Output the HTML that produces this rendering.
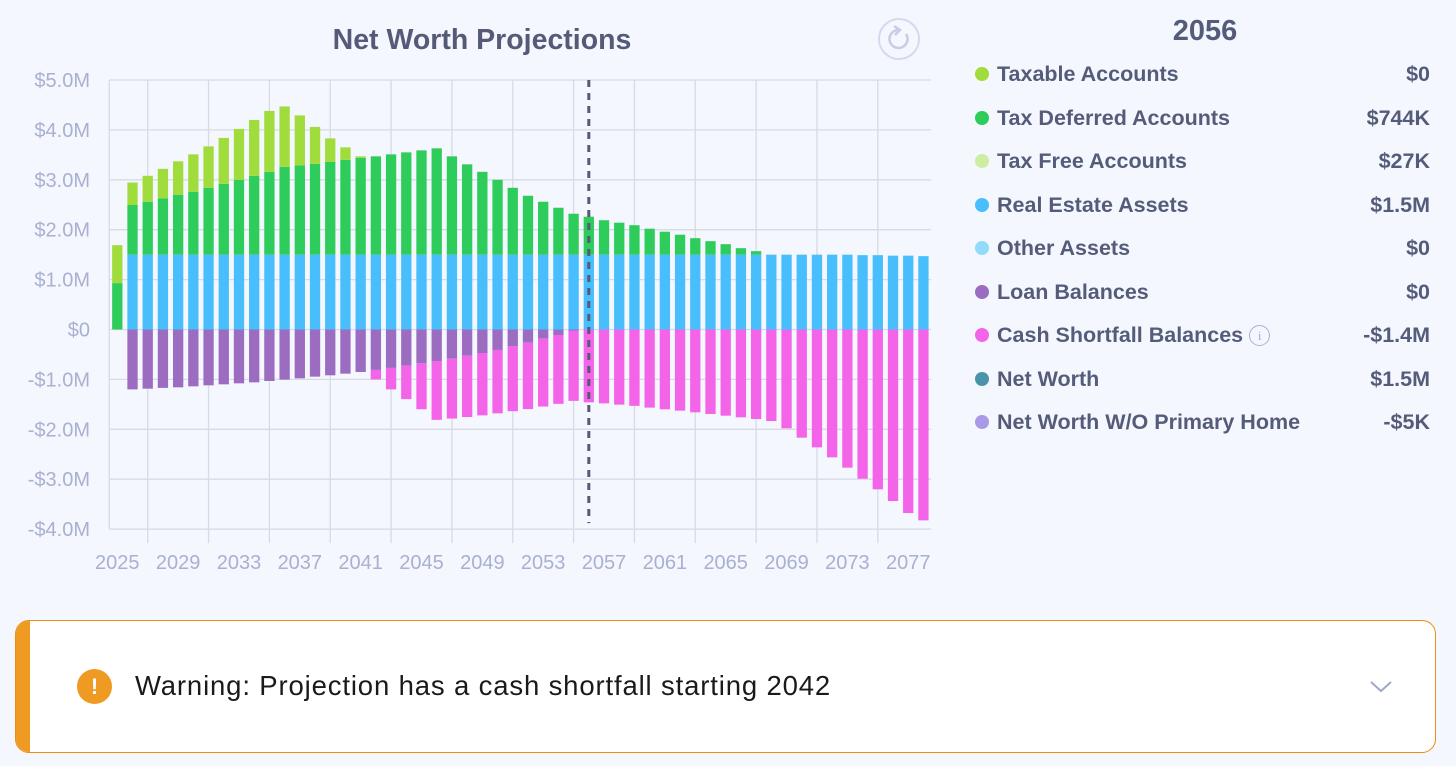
<!DOCTYPE html>
<html><head><meta charset="utf-8"><style>
body{margin:0;width:1456px;height:766px;background:#f4f7fe;font-family:"Liberation Sans",sans-serif;overflow:hidden;position:relative}
.leg{position:absolute;left:975px;width:455px;height:30px;font-size:21.5px;font-weight:bold;color:#555c7a}
.leg .dot{position:absolute;left:0;top:8px;width:14px;height:14px;border-radius:50%}
.leg .lab{position:absolute;left:22px;top:3px}
.leg .val{position:absolute;right:0;top:3px}
</style></head><body>
<svg id="chart" width="940" height="590" style="position:absolute;left:0;top:0">
<text x="482" y="49" text-anchor="middle" font-size="28.5" font-weight="bold" fill="#555a78">Net Worth Projections</text>
<g><circle cx="899" cy="39" r="20" fill="none" stroke="#d6d9ee" stroke-width="2"/><path d="M906 34 A9 9 0 1 1 898 30" fill="none" stroke="#c8cce6" stroke-width="2.5"/><path d="M894 26 L900 30 L895 35" fill="none" stroke="#c8cce6" stroke-width="2.5"/></g>
<g id="grid"></g><g id="bars"></g><g id="axes"></g>
</svg>
<div style="position:absolute;left:1105px;top:15px;width:200px;text-align:center;font-size:29px;font-weight:bold;color:#555c7a">2056</div>
<div id="legend"></div>
<div style="position:absolute;left:15px;top:620px;width:1419px;height:131px;background:#fff;border:1.5px solid #f08c10;border-radius:14px;overflow:hidden">
<div style="position:absolute;left:0;top:0;width:14px;height:100%;background:#ef9a22"></div>
<div style="position:absolute;left:61px;top:48px;width:35px;height:35px;border-radius:50%;background:#ef9a22;color:#fff;font-weight:bold;font-size:22px;text-align:center;line-height:35px">!</div>
<div style="position:absolute;left:119px;top:49px;font-size:27.5px;letter-spacing:0.85px;color:#1a1a1a">Warning: Projection has a cash shortfall starting 2042</div>
<svg width="24" height="14" style="position:absolute;left:1353px;top:59px"><path d="M2 2 L12 11 L22 2" fill="none" stroke="#a0a8c8" stroke-width="2"/></svg>
</div>
<script>
const years=[];for(let y=2025;y<=2078;y++)years.push(y);
const realEstate=[0,1.5,1.5,1.5,1.5,1.5,1.5,1.5,1.5,1.5,1.5,1.5,1.5,1.5,1.5,1.5,1.5,1.5,1.5,1.5,1.5,1.5,1.5,1.5,1.5,1.5,1.5,1.5,1.5,1.5,1.5,1.5,1.5,1.5,1.5,1.5,1.5,1.5,1.5,1.5,1.5,1.5,1.5,1.5,1.5,1.5,1.5,1.5,1.5,1.49,1.49,1.48,1.48,1.47];
const taxDeferred=[0.93,0.995,1.06,1.13,1.2,1.26,1.34,1.42,1.5,1.58,1.66,1.76,1.79,1.82,1.86,1.9,1.94,1.97,2.01,2.05,2.09,2.13,1.97,1.81,1.66,1.5,1.34,1.18,1.06,0.94,0.82,0.76,0.69,0.64,0.59,0.52,0.46,0.4,0.33,0.27,0.21,0.13,0.07,0,0,0,0,0,0,0,0,0,0,0];
const taxable=[0.76,0.45,0.52,0.59,0.67,0.75,0.83,0.92,1.02,1.12,1.22,1.21,1.0,0.74,0.47,0.25,0.03,0,0,0,0,0,0,0,0,0,0,0,0,0,0,0,0,0,0,0,0,0,0,0,0,0,0,0,0,0,0,0,0,0,0,0,0,0];
const loans=[0,1.2,1.186,1.17,1.159,1.139,1.119,1.099,1.079,1.059,1.032,1.005,0.979,0.945,0.918,0.885,0.852,0.81,0.77,0.725,0.678,0.631,0.585,0.524,0.471,0.41,0.337,0.264,0.184,0.11,0.02,0,0,0,0,0,0,0,0,0,0,0,0,0,0,0,0,0,0,0,0,0,0,0];
const shortfall=[0,0,0,0,0,0,0,0,0,0,0,0,0,0,0,0,0,0.19,0.43,0.67,0.92,1.18,1.2,1.23,1.25,1.27,1.3,1.33,1.36,1.38,1.41,1.46,1.48,1.506,1.53,1.566,1.6,1.626,1.66,1.693,1.727,1.76,1.794,1.834,1.98,2.168,2.362,2.562,2.769,2.99,3.203,3.437,3.678,3.825];
const yTicks=[5,4,3,2,1,0,-1,-2,-3,-4];
const yTickLabels=["$5.0M","$4.0M","$3.0M","$2.0M","$1.0M","$0","-$1.0M","-$2.0M","-$3.0M","-$4.0M"];
const xTickYears=[2025,2029,2033,2037,2041,2045,2049,2053,2057,2061,2065,2069,2073,2077];
const selectedYear=2056;
const legendLabels=["Taxable Accounts","Tax Deferred Accounts","Tax Free Accounts","Real Estate Assets","Other Assets","Loan Balances","Cash Shortfall Balances","Net Worth","Net Worth W/O Primary Home"];
const legendValues=["$0","$744K","$27K","$1.5M","$0","$0","-$1.4M","$1.5M","-$5K"];
const legendColors=["#a0dc3c","#2ecc5a","#cdeea0","#48bffc","#92dcfa","#9c6cc0","#f464e8","#4a94aa","#a89ae8"];

const NS="http://www.w3.org/2000/svg";
const X0=109.3,X1=931;
const yS=v=>329.5-v*49.9;
const xS=yr=>117.3+(yr-2025)*15.21;
function mk(tag,attrs,parent){const e=document.createElementNS(NS,tag);for(const k in attrs)e.setAttribute(k,attrs[k]);parent.appendChild(e);return e;}
const grid=document.getElementById('grid'),bars=document.getElementById('bars'),axes=document.getElementById('axes');
yTicks.forEach((t,i)=>{
  const l=mk('line',{x1:X0,x2:X1,y1:yS(t),y2:yS(t),stroke:'#d8dae4','stroke-width':1.3},grid);
  
  
  const tx=mk('text',{x:90,y:yS(t)+7,'text-anchor':'end','font-size':20,fill:'#a9b0d0'},axes);
  tx.textContent=yTickLabels[i];
  
  
});
mk('line',{x1:X0,x2:X0,y1:yS(5),y2:yS(-4),stroke:'#d8dae4','stroke-width':1.3},grid);
xTickYears.forEach(yr=>{
  const gx=xS(yr+2);
  if(gx<X1){const l=mk('line',{x1:gx,x2:gx,y1:yS(5),y2:yS(-4)+14,stroke:'#d8dae4','stroke-width':1.3},grid);
  
  }
  const tx=mk('text',{x:xS(yr),y:569,'text-anchor':'middle','font-size':20,fill:'#a9b0d0'},axes);
  tx.textContent=yr;
  
  
});
const W=10.3;
function seg(i,a,b,col,name){if(Math.abs(b-a)<0.001)return;
  const r=mk('rect',{x:xS(years[i])-W/2,y:Math.min(yS(a),yS(b)),width:W,height:Math.abs(yS(a)-yS(b)),fill:col},bars);
  
  }
years.forEach((yr,i)=>{
  let c=0;
  seg(i,c,c+realEstate[i],'#48bffc','bar-real-estate');c+=realEstate[i];
  seg(i,c,c+taxDeferred[i],'#2ecc5a','bar-tax-deferred');c+=taxDeferred[i];
  seg(i,c,c+taxable[i],'#a0dc3c','bar-taxable');
  let n=0;
  seg(i,n,n-loans[i],'#9c6cc0','bar-loans');n-=loans[i];
  seg(i,n,n-shortfall[i],'#f464e8','bar-shortfall');
});
const dl=mk('line',{x1:xS(selectedYear),x2:xS(selectedYear),y1:yS(5),y2:yS(-4)-6,stroke:'#555a78','stroke-width':3,'stroke-dasharray':'7 6'},axes);


const leg=document.getElementById('legend');
legendLabels.forEach((lab,i)=>{
  const d=document.createElement('div');d.className='leg';d.style.top=(59+i*43.5)+'px';
  
  
  d.innerHTML='<span class="dot" style="background:'+legendColors[i]+'"></span><span class="lab">'+lab+(i==6?' <span style="display:inline-block;width:19px;height:19px;border:1.5px solid #a9b0d0;border-radius:50%;font-size:13px;font-weight:normal;text-align:center;line-height:19px;color:#a9b0d0;vertical-align:2px;font-family:Liberation Serif,serif">i</span>':'')+'</span><span class="val">'+legendValues[i]+'</span>';
  leg.appendChild(d);
});
</script>
</body></html>
